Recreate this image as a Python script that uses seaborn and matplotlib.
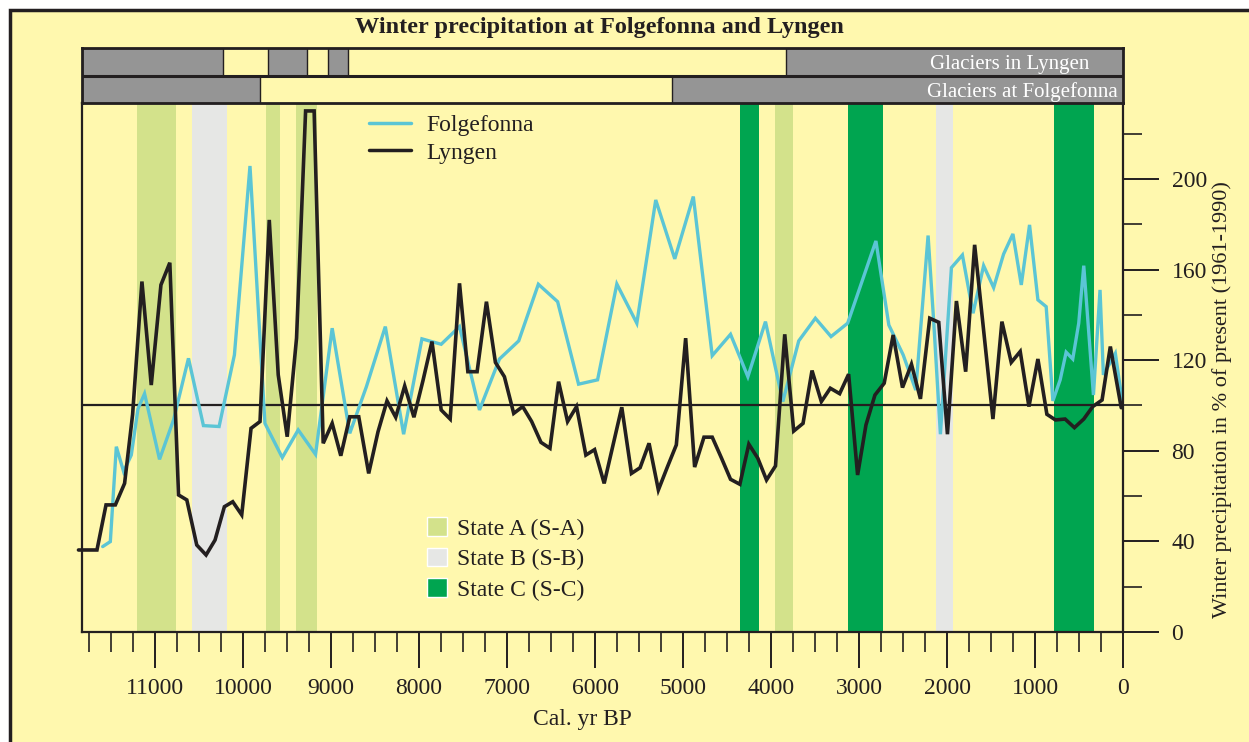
import numpy as np
import pandas as pd
import matplotlib
matplotlib.use('Agg')
import matplotlib.pyplot as plt
from matplotlib.patches import Rectangle, Patch
from matplotlib.lines import Line2D
from matplotlib.ticker import MultipleLocator, FuncFormatter
import seaborn as sns

# ---------------- data ----------------
lyngen_years = [11870, 11660, 11557, 11451, 11346, 11255, 11149, 11043, 10933, 10832,
                10733, 10639, 10526, 10420, 10318, 10212, 10117, 10015, 9909, 9807,
                9702, 9600, 9498, 9392, 9289, 9192, 9089, 8987, 8889, 8787,
                8685, 8572, 8466, 8364, 8265, 8163, 8058, 7955, 7853, 7748,
                7646, 7540, 7445, 7340, 7234, 7132, 7030, 6924, 6822, 6720,
                6614, 6512, 6414, 6312, 6210, 6104, 6005, 5896, 5696, 5586,
                5488, 5386, 5280, 5178, 5076, 4970, 4868, 4762, 4668, 4562,
                4460, 4354, 4252, 4150, 4051, 3949, 3844, 3742, 3636, 3534,
                3428, 3326, 3220, 3118, 3016, 2921, 2819, 2714, 2612, 2506,
                2404, 2302, 2196, 2094, 1995, 1893, 1788, 1686, 1478, 1376,
                1270, 1168, 1069, 967, 865, 767, 658, 552, 446, 344,
                238, 144, 20]
lyngen_vals = [36.2, 36.2, 56.1, 56.1, 65.6, 96, 154.7, 109, 153.2, 163,
               60.5, 58.3, 38.4, 34, 40.6, 55.3, 57.5, 51.7, 89.9, 92.9,
               181.9, 113.5, 86.2, 129.7, 230, 230, 83.3, 92.1, 77.8, 95,
               95, 70, 88.4, 102, 94.8, 108.6, 94.8, 111, 128.2, 98,
               94, 153.9, 114.9, 114.9, 145.8, 119, 112.7, 96.5, 99.5, 92.9,
               83.7, 81.1, 110.5, 92.9, 99.5, 78.1, 80.5, 65.6, 99.2, 70,
               72.5, 83.3, 62.7, 72.8, 82.6, 129.7, 72.8, 86, 86, 76.7,
               67.4, 65.2, 82.9, 76.7, 67.1, 73.3, 131.4, 88.7, 92.1, 115.4,
               101.7, 107.6, 105.2, 113.8, 69.3, 91.4, 104.6, 109.8, 131.1, 107.9,
               118.2, 102.9, 138.5, 136.7, 87.3, 146.1, 114.9, 170.9, 94, 137,
               119, 123.8, 99.5, 120.5, 96.1, 93.6, 94, 90.2, 94, 99.5,
               102.4, 126, 99]

folge_years = [11595, 11508, 11440, 11357, 11270, 11194, 11119, 10949, 10790, 10620,
               10450, 10272, 10098, 9921, 9751, 9554, 9373, 9176, 8987, 8787,
               8598, 8383, 8175, 7967, 7748, 7540, 7313, 7086, 6867, 6644,
               6425, 6187, 5971, 5752, 5525, 5310, 5094, 4883, 4668, 4460,
               4263, 4063, 3866, 3685, 3496, 3318, 3129, 2808, 2661, 2498,
               2355, 2215, 2150, 2075, 1950, 1825, 1704, 1584, 1470, 1357,
               1251, 1156, 1062, 967, 873, 797, 714, 646, 571, 503,
               446, 336, 261, 223, 87, 10]
folge_vals = [37.7, 39.9, 81.8, 70.8, 78.1, 98.5, 105.2, 76.2, 93.6, 120.8,
              91.1, 90.7, 122.3, 205.7, 92.1, 77, 89.2, 78.4, 134.1, 87.7,
              108.3, 134.8, 87.3, 129.4, 127, 134.8, 98, 120.5, 128.5, 153.5,
              145.8, 109.4, 111.3, 153.6, 136.3, 190.7, 164.7, 192.2, 122, 131.4,
              112.7, 137, 101.7, 128.5, 138.5, 130.4, 136.3, 172.6, 135.5, 122.3,
              106.8, 175, 136.3, 87.3, 160.8, 166.4, 140.7, 161.7, 152, 166.8,
              175.7, 153.2, 179.7, 146.6, 143.6, 102, 111.3, 123.5, 120.5, 136.3,
              161.7, 104.6, 151, 113.5, 123, 102]

state_a = [(11200, 10760), (9740, 9580), (9400, 9160), (3960, 3750)]
state_b = [(10580, 10180), (2130, 1930)]
state_c = [(4350, 4140), (3120, 2730), (780, 330)]

lyngen_glaciers = [(11830, 10230), (9720, 9275), (9040, 8810), (3830, 0)]
folge_glaciers = [(11830, 9810), (5125, 0)]

series_names = ['Folgefonna', 'Lyngen']
state_labels = ['State A (S-A)', 'State B (S-B)', 'State C (S-C)']
bar_labels = ['Glaciers in Lyngen', 'Glaciers at Folgefonna']
title = 'Winter precipitation at Folgefonna and Lyngen'
xlabel = 'Cal. yr BP'
ylabel = 'Winter precipitation in % of present (1961-1990)'

# ---------------- style ----------------
BG = '#fff8ae'
K = '#231f20'
CY = '#5bc5d5'
CA = '#d3e28b'
CB = '#e6e7e5'
CC = '#00a550'
GR = '#959595'

sns.set_theme(style='ticks')
plt.rcParams['font.family'] = ['Liberation Serif', 'DejaVu Serif']
plt.rcParams['mathtext.fontset'] = 'stix'

W, H = 1249, 742
fig = plt.figure(figsize=(W / 100, H / 100), dpi=100, facecolor='white')
fig.patches.append(Rectangle((10 / W, -0.05), 1.1, (1 - 10 / H) + 0.05,
                             transform=fig.transFigure, facecolor=BG,
                             edgecolor=K, lw=2.5, zorder=-10))

XMAX = 11830
ax = fig.add_axes([82 / W, 1 - 632 / H, (1123 - 82) / W, (632 - 103) / H])
ax.set_facecolor(BG)

for a, b in state_a:
    ax.axvspan(a, b, color=CA, lw=0, zorder=0)
for a, b in state_b:
    ax.axvspan(a, b, color=CB, lw=0, zorder=0)
for a, b in state_c:
    ax.axvspan(a, b, color=CC, lw=0, zorder=0)

ax.axhline(100, color=K, lw=1.6, zorder=1)

df_f = pd.DataFrame({'year': folge_years, 'value': folge_vals})
df_l = pd.DataFrame({'year': lyngen_years, 'value': lyngen_vals})
sns.lineplot(data=df_f, x='year', y='value', color=CY, lw=2.4, ax=ax,
             estimator=None, sort=False, zorder=2)
sns.lineplot(data=df_l, x='year', y='value', color=K, lw=2.6, ax=ax,
             estimator=None, sort=False, zorder=3)
for ln in ax.lines:
    ln.set_clip_on(False)
    ln.set_solid_joinstyle('miter')

ax.set_xlim(XMAX, 0)
ax.set_ylim(0, 233.5)

ax.xaxis.set_major_locator(MultipleLocator(1000))
ax.xaxis.set_minor_locator(MultipleLocator(250))
ax.xaxis.set_major_formatter(FuncFormatter(lambda v, p: f'{int(round(v))}'))
ax.yaxis.tick_right()
ax.yaxis.set_label_position('right')
ax.yaxis.set_major_locator(MultipleLocator(40))
ax.yaxis.set_minor_locator(MultipleLocator(20))

ax.tick_params(axis='x', which='major', direction='out', length=26, width=1.4,
               pad=7, labelsize=17, color=K, labelcolor=K)
ax.tick_params(axis='x', which='minor', direction='out', length=14.5, width=1.2, color=K)
ax.tick_params(axis='y', which='major', direction='out', length=26, width=1.4,
               pad=9, labelsize=17, color=K, labelcolor=K, left=False, right=True)
ax.tick_params(axis='y', which='minor', direction='out', length=13.5, width=1.2,
               color=K, left=False, right=True)
for s in ax.spines.values():
    s.set_visible(True)
    s.set_color(K)
    s.set_linewidth(1.6)

ax.set_xlabel(xlabel, fontsize=17, color=K)
ax.xaxis.set_label_coords(0.481, -0.146)
ax.set_ylabel(ylabel, fontsize=16, color=K, rotation=90)
ax.yaxis.set_label_coords(1.095, 0.4386)
ax.yaxis.label.set_va('center')
ax.yaxis.label.set_ha('center')

leg1 = ax.legend(handles=[Line2D([], [], color=CY, lw=2.5, label=series_names[0]),
                          Line2D([], [], color=K, lw=2.5, label=series_names[1])],
                 loc='upper left', bbox_to_anchor=(0.276, 0.978), frameon=False,
                 fontsize=17, handlelength=1.75, handletextpad=0.65,
                 labelspacing=0.25, borderpad=0, borderaxespad=0)
for t in leg1.get_texts():
    t.set_color(K)
ax.add_artist(leg1)
leg2 = ax.legend(handles=[Patch(facecolor=CA, label=state_labels[0]),
                          Patch(facecolor=CB, label=state_labels[1]),
                          Patch(facecolor=CC, label=state_labels[2])],
                 loc='upper left', bbox_to_anchor=(0.331, 0.217), frameon=False,
                 fontsize=17, handlelength=0.85, handleheight=0.85,
                 handletextpad=0.45, labelspacing=0.33, borderpad=0, borderaxespad=0)
for t in leg2.get_texts():
    t.set_color(K)

# ---------------- glacier bars ----------------
bax = fig.add_axes([82 / W, 1 - 103 / H, (1123 - 82) / W, (103 - 48) / H])
bax.set_facecolor(BG)
for a, b in lyngen_glaciers:
    bax.barh(1.5, a - b, left=b, height=1.0, color=GR, edgecolor=K, lw=1.0)
for a, b in folge_glaciers:
    bax.barh(0.5, a - b, left=b, height=1.0, color=GR, edgecolor=K, lw=1.0)
bax.axhline(1.0, color=K, lw=2.2)
bax.set_xlim(XMAX, 0)
bax.set_ylim(0, 2)
bax.set_xticks([])
bax.set_yticks([])
for s in bax.spines.values():
    s.set_visible(True)
    s.set_color(K)
    s.set_linewidth(2.0)
bax.text(0.968, 0.74, bar_labels[0], transform=bax.transAxes, ha='right',
         va='center_baseline', color='white', fontsize=15)
bax.text(0.995, 0.24, bar_labels[1], transform=bax.transAxes, ha='right',
         va='center_baseline', color='white', fontsize=15)

fig.text(599 / W, 1 - 27 / H, title, ha='center', va='center', fontsize=17.5,
         fontweight='bold', color=K)

fig.savefig('out.png', dpi=100, facecolor='white')
